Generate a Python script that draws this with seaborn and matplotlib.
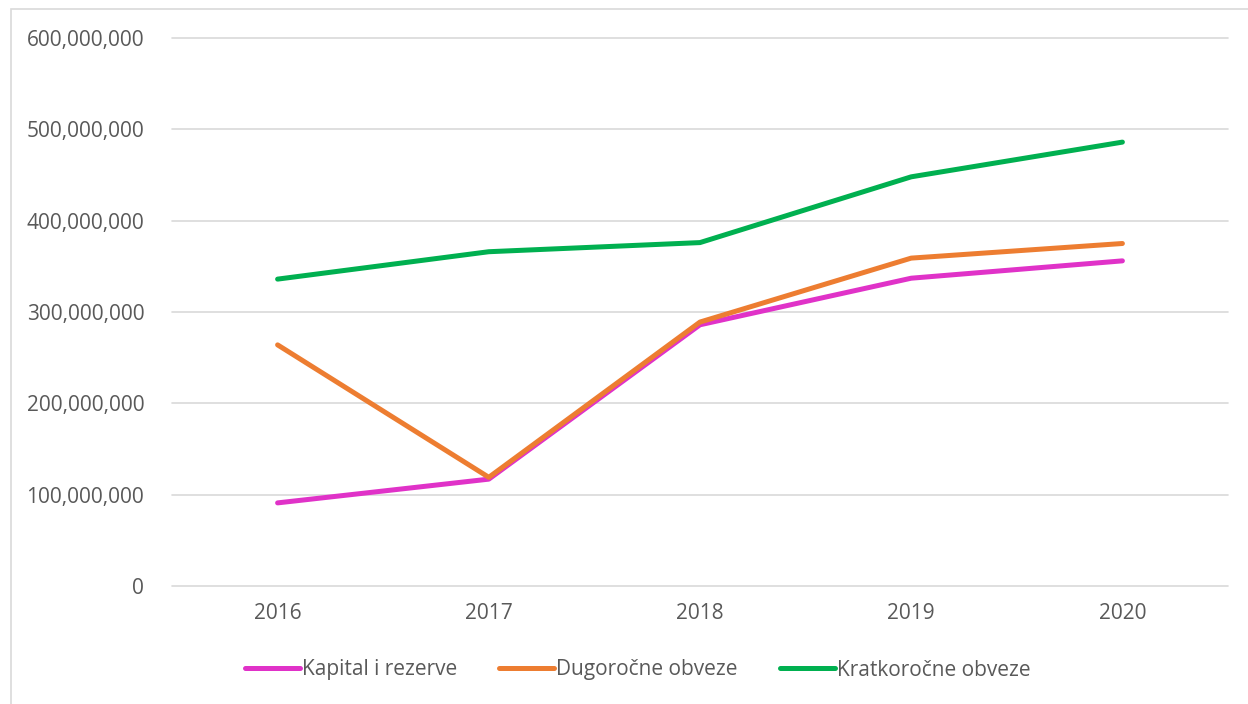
import matplotlib
matplotlib.use("Agg")
import matplotlib.pyplot as plt
import matplotlib.ticker as mticker
from matplotlib.patches import Rectangle
import pandas as pd
import seaborn as sns

years = ["2016", "2017", "2018", "2019", "2020"]
kapital = [91e6, 117e6, 286e6, 337e6, 356e6]
dugorocne = [264e6, 119e6, 289e6, 359e6, 375e6]
kratkorocne = [336e6, 366e6, 376e6, 448e6, 486e6]
series_names = ["Kapital i rezerve", "Dugoročne obveze", "Kratkoročne obveze"]
colors = ["#E032C8", "#ED7D31", "#00B050"]

df = pd.DataFrame({
    "Godina": years * 3,
    "Vrijednost": kapital + dugorocne + kratkorocne,
    "Serija": [s for s in series_names for _ in years],
})

sns.set_theme(style="white")
plt.rcParams["font.family"] = ["Open Sans", "DejaVu Sans"]
text_color = "#595959"
fs = 15

fig = plt.figure(figsize=(12.48, 7.04), dpi=100)
ax = fig.add_axes([172 / 1248, 1 - 586 / 704, 1056 / 1248, 548 / 704])

sns.lineplot(data=df, x="Godina", y="Vrijednost", hue="Serija",
             palette=colors, linewidth=3.6, ax=ax, sort=False)

ax.set_xlim(-0.5, 4.5)
ax.set_ylim(0, 600e6)
ax.yaxis.set_major_locator(mticker.MultipleLocator(100e6))
ax.yaxis.set_major_formatter(mticker.FuncFormatter(lambda v, p: f"{v:,.0f}"))
ax.grid(axis="y", color="#D9D9D9", linewidth=1.2)
for gl in ax.get_ygridlines():
    gl.set_clip_on(False)
ax.set_axisbelow(True)
for s in ax.spines.values():
    s.set_visible(False)
ax.tick_params(axis="both", length=0, labelsize=fs, labelcolor=text_color)
ax.tick_params(axis="y", pad=20)
ax.tick_params(axis="x", pad=12)
ax.set_xlabel("")
ax.set_ylabel("")

handles, labels = ax.get_legend_handles_labels()
ax.get_legend().remove()
fig.legend(handles, labels, loc="center", bbox_to_anchor=(0.511, 1 - 670 / 704),
           ncol=3, frameon=False, fontsize=fs, labelcolor=text_color,
           handlelength=2.65, handletextpad=0.1, columnspacing=2.0)

fig.patches.append(Rectangle((11 / 1248, -0.1), 1.2, 1 - 9 / 704 + 0.1,
                             transform=fig.transFigure, fill=False,
                             edgecolor="#D9D9D9", linewidth=1.2))

fig.savefig("out.png", dpi=100)
